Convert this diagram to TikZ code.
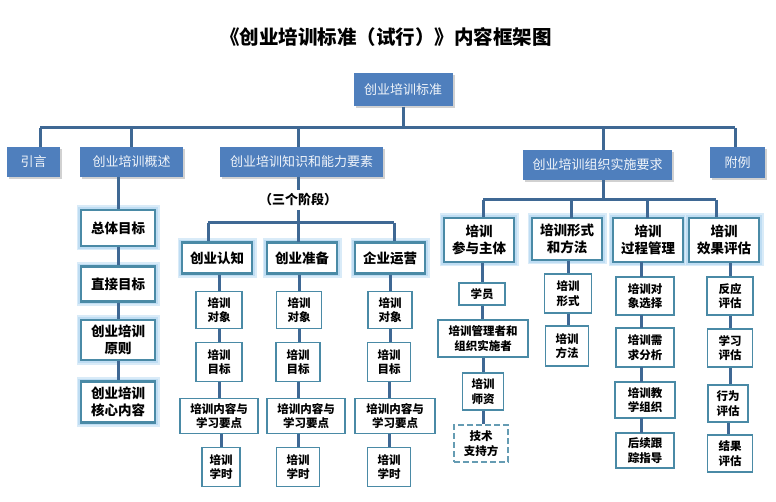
\documentclass[tikz,border=0pt]{standalone}
\usepackage{fontspec}
\setmainfont{Noto Sans CJK SC}
\usetikzlibrary{shadows}
\definecolor{hdrblue}{HTML}{4F7FBD}
\definecolor{boxb}{HTML}{4A8AA6}
\definecolor{lineb}{HTML}{3F6894}
\definecolor{glowc}{HTML}{BFDDF3}
\tikzset{
  hdr/.style={fill=hdrblue, text=white!92!hdrblue, inner sep=0pt, font=\fontsize{13}{15}\selectfont,
     drop shadow={shadow xshift=2pt, shadow yshift=-2pt, fill=black!18, opacity=1}},
  gbox/.style={draw=boxb, line width=2.2pt, fill=white, inner sep=0pt, align=center,
     font=\bfseries\fontsize{13.5}{17}\selectfont,
     preaction={draw=glowc!60, line width=9pt}, preaction={draw=glowc, line width=5.5pt}},
  sbox/.style={draw=boxb, line width=1.8pt, fill=white, inner sep=0pt, align=center,
     font=\bfseries\fontsize{11.5}{14.5}\selectfont},
  conn/.style={draw=lineb, line width=3pt},
}
\begin{document}
\begin{tikzpicture}[x=1pt,y=-1pt]
\useasboundingbox[fill=white] (0,0) rectangle (776,502);
\node[font=\bfseries\fontsize{19.5}{22}\selectfont] (title) at (386,37) {《创业培训标准（试行）》内容框架图};

% level 0 / 1
\node[hdr, minimum width=99pt, minimum height=33pt] (top) at (403,90) {创业培训标准};
\node[hdr, minimum width=53pt, minimum height=30pt] (yy) at (33.5,162) {引言};
\node[hdr, minimum width=103pt, minimum height=30pt] (gs) at (131.5,162) {创业培训概述};
\node[hdr, minimum width=163pt, minimum height=30pt] (zs) at (301.5,162) {创业培训知识和能力要素};
\node[hdr, minimum width=149pt, minimum height=30pt] (zz) at (597.5,165) {创业培训组织实施要求};
\node[hdr, minimum width=55pt, minimum height=31pt] (fl) at (737.5,162.5) {附例};

\coordinate (busL) at (40,128);
\coordinate (busR) at (735,128);
\draw[conn] (top.south) -- (top.south |- busL);
\draw[conn] (busL) -- (busR);
\draw[conn] (busL) -- (busL |- yy.north);
\draw[conn] (gs.north |- busL) -- (gs.north);
\draw[conn] (298,128) -- (298,147);
\draw[conn] (603,128) -- (603,150);
\draw[conn] (busR) -- (busR |- fl.north);

% left column
\node[gbox, minimum width=74pt, minimum height=36pt] (g1) at (118,228) {总体目标};
\node[gbox, minimum width=74pt, minimum height=35pt] (g2) at (118,284) {直接目标};
\node[gbox, minimum width=74pt, minimum height=40pt] (g3) at (118,340) {创业培训\\原则};
\node[gbox, minimum width=74pt, minimum height=41pt] (g4) at (118,402) {创业培训\\核心内容};
\draw[conn] (g1.north |- gs.south) -- (g1.north);
\draw[conn] (g1.south) -- (g2.north);
\draw[conn] (g2.south) -- (g3.north);
\draw[conn] (g3.south) -- (g4.north);

% three stages
\node[font=\bfseries\fontsize{13}{15}\selectfont] (sj) at (298,200) {（三个阶段）};
\draw[conn] (298,177) -- (sj.north);
\draw[conn] (sj.south) -- (298,223);
\coordinate (sbL) at (208,223);
\coordinate (sbR) at (394,223);
\draw[conn] (sbL) -- (sbR);
\node[gbox, minimum width=70pt, minimum height=31pt] (s1) at (217,258) {创业认知};
\node[gbox, minimum width=70pt, minimum height=31pt] (s2) at (302,258) {创业准备};
\node[gbox, minimum width=70pt, minimum height=31pt] (s3) at (390,258) {企业运营};
\draw[conn] (sbL) -- (sbL |- s1.north);
\draw[conn] (298,223) -- (298,242.5);
\draw[conn] (sbR) -- (sbR |- s3.north);

% stage columns
\node[sbox, minimum width=46pt, minimum height=37pt] (a1) at (219,310) {培训\\对象};
\node[sbox, minimum width=46pt, minimum height=39pt] (a2) at (219,362) {培训\\目标};
\node[sbox, minimum width=78pt, minimum height=35pt] (a3) at (219,416) {培训内容与\\学习要点};
\node[sbox, minimum width=38pt, minimum height=39pt] (a4) at (221,467) {培训\\学时};
\draw[conn] (a1.north |- s1.south) -- (a1.north);
\draw[conn] (a1.south) -- (a2.north);
\draw[conn] (a2.south) -- (a3.north);
\draw[conn] (a3.south -| a4) -- (a4.north);

\node[sbox, minimum width=45pt, minimum height=37pt] (b1) at (299,310) {培训\\对象};
\node[sbox, minimum width=44pt, minimum height=39pt] (b2) at (298,362) {培训\\目标};
\node[sbox, minimum width=78pt, minimum height=35pt] (b3) at (306,416) {培训内容与\\学习要点};
\node[sbox, minimum width=43pt, minimum height=39pt] (b4) at (298,467) {培训\\学时};
\draw[conn] (b1.north |- s2.south) -- (b1.north);
\draw[conn] (b1.south) -- (b1.south |- b2.north);
\draw[conn] (b2.south) -- (b2.south |- b3.north);
\draw[conn] (b3.south -| b4) -- (b4.north);

\node[sbox, minimum width=44pt, minimum height=37pt] (c1) at (390,310) {培训\\对象};
\node[sbox, minimum width=43pt, minimum height=39pt] (c2) at (389,362) {培训\\目标};
\node[sbox, minimum width=80pt, minimum height=35pt] (c3) at (395,416) {培训内容与\\学习要点};
\node[sbox, minimum width=43pt, minimum height=39pt] (c4) at (389,467) {培训\\学时};
\draw[conn] (c1.north |- s3.south) -- (c1.north);
\draw[conn] (c1.south) -- (c1.south |- c2.north);
\draw[conn] (c2.south) -- (c2.south |- c3.north);
\draw[conn] (c3.south -| c4) -- (c4.north);

% right section
\coordinate (rbL) at (483,200);
\coordinate (rbR) at (716,200);
\draw[conn] (zz.south -| 603,0) -- (603,200);
\draw[conn] (rbL) -- (rbR);
\node[gbox, minimum width=70pt, minimum height=44pt] (r1) at (479,240) {培训\\参与主体};
\node[gbox, minimum width=70pt, minimum height=42pt] (r2) at (567,239) {培训形式\\和方法};
\node[gbox, minimum width=70pt, minimum height=44pt] (r3) at (648,240) {培训\\过程管理};
\node[gbox, minimum width=70pt, minimum height=44pt] (r4) at (724,240) {培训\\效果评估};
\draw[conn] (rbL) -- (rbL |- r1.north);
\draw[conn] (571,200) -- (571,218);
\draw[conn] (647,200) -- (647,218);
\draw[conn] (rbR) -- (rbR |- r4.north);

\node[sbox, minimum width=46pt, minimum height=22pt] (p1) at (482,294) {学员};
\node[sbox, minimum width=90pt, minimum height=37pt] (p2) at (483,338.5) {培训管理者和\\组织实施者};
\node[sbox, minimum width=41pt, minimum height=37pt] (p3) at (483,391.5) {培训\\师资};
\node[sbox, dashed, dash pattern=on 6pt off 3pt, draw=boxb!85, minimum width=54pt, minimum height=37pt] (p4) at (481,443.5) {技术\\支持方};
\draw[conn] (p1.north |- r1.south) -- (p1.north);
\draw[conn] (p1.south) -- (p1.south |- p2.north);
\draw[conn] (p2.south) -- (p2.south |- p3.north);
\draw[conn] (p3.south) -- (p3.south |- p4.north);

\node[sbox, minimum width=47pt, minimum height=39pt] (q1) at (568,293.5) {培训\\形式};
\node[sbox, minimum width=43pt, minimum height=40pt] (q2) at (567,346) {培训\\方法};
\draw[conn] (q1.north |- r2.south) -- (q1.north);
\draw[conn] (q1.south) -- (q1.south |- q2.north);

\node[sbox, minimum width=58pt, minimum height=38pt] (m1) at (645,296) {培训对\\象选择};
\node[sbox, minimum width=58pt, minimum height=39pt] (m2) at (645,347.5) {培训需\\求分析};
\node[sbox, minimum width=60pt, minimum height=36pt] (m3) at (645,400) {培训教\\学组织};
\node[sbox, minimum width=58pt, minimum height=35pt] (m4) at (645,450.5) {后续跟\\踪指导};
\draw[conn] (641,262) -- (641,277);
\draw[conn] (641,315) -- (641,328);
\draw[conn] (641,367) -- (641,382);
\draw[conn] (641,418) -- (641,433);

\node[sbox, minimum width=46pt, minimum height=38pt] (e1) at (730,296) {反应\\评估};
\node[sbox, minimum width=45pt, minimum height=38pt] (e2) at (730,348) {学习\\评估};
\node[sbox, minimum width=40pt, minimum height=37pt] (e3) at (728,403.5) {行为\\评估};
\node[sbox, minimum width=45pt, minimum height=37pt] (e4) at (730,453.5) {结果\\评估};
\draw[conn] (e1.north |- r4.south) -- (e1.north);
\draw[conn] (e1.south) -- (e1.south |- e2.north);
\draw[conn] (e2.south) -- (e2.south |- e3.north);
\draw[conn] (e3.south) -- (e3.south |- e4.north);
\end{tikzpicture}
\end{document}
